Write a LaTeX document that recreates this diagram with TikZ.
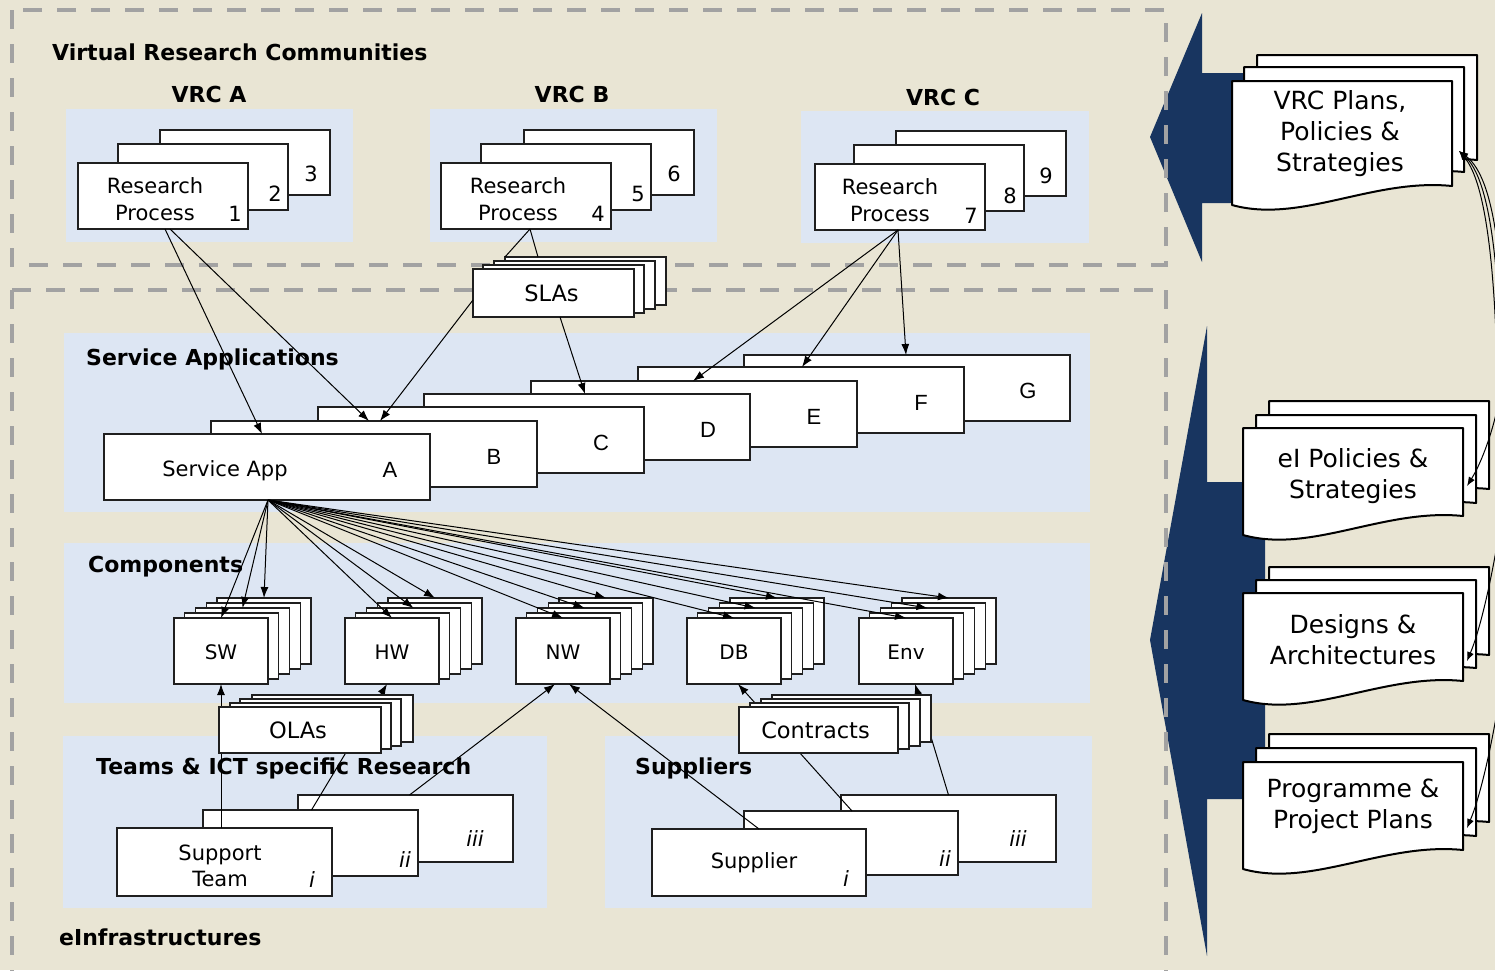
\documentclass[tikz,border=0pt]{standalone}
\usepackage{fontspec}
\setmainfont{DejaVu Sans}
\newfontfamily\arialfam{Liberation Sans}
\usetikzlibrary{arrows.meta,calc}
\definecolor{bgc}{RGB}{233,229,212}
\definecolor{panelc}{RGB}{221,230,243}
\definecolor{navyc}{RGB}{24,53,96}
\definecolor{dashc}{RGB}{162,162,162}
\tikzset{
  cbox/.style={draw=black!88, fill=white, line width=1.3pt, inner sep=0pt, outer sep=0pt, anchor=north west},
  dashbox/.style={draw=dashc, line width=4.5pt, dash pattern=on 19pt off 15pt},
  seclbl/.style={inner sep=0pt, anchor=west, font=\fontsize{22}{26}\selectfont\bfseries},
  vrclbl/.style={inner sep=0pt, font=\fontsize{22}{26}\selectfont\bfseries},
  btxt/.style={inner sep=0pt, align=center, font=\fontsize{21}{26.5}\selectfont},
  numtxt/.style={inner sep=0pt, font=\fontsize{21}{26}\selectfont},
  lettxt/.style={inner sep=0pt, font=\arialfam\fontsize{22}{26}\selectfont},
  comptxt/.style={inner sep=0pt, font=\fontsize{20}{24}\selectfont},
  agrtxt/.style={inner sep=0pt, font=\fontsize{22.5}{26}\selectfont},
  romtxt/.style={inner sep=0pt, font=\fontsize{21}{26}\selectfont\itshape},
  doctxt/.style={inner sep=0pt, align=center, font=\fontsize{25}{31}\selectfont},
  conn/.style={draw=black, line width=1pt},
  arr/.style={conn, -{Latex[length=11pt,width=8pt]}},
  rarr/.style={draw=black, line width=1pt, -{Latex[length=9pt,width=7pt]}},
  docb/.style={draw=black, fill=white, line width=2pt, line join=round},
}
\newcommand\docsh[4]{%
  \pgfmathsetmacro\dRx{#1+#3}%
  \pgfmathsetmacro\dLy{#2+#4}%
  \pgfmathsetmacro\dRy{#2+#4-19}%
  \pgfmathsetmacro\dAx{#1+0.31*#3}%
  \pgfmathsetmacro\dAy{#2+#4+19}%
  \pgfmathsetmacro\dBx{#1+0.64*#3}%
  \pgfmathsetmacro\dBy{#2+#4-27}%
  \draw[docb] (#1,#2) -- (\dRx,#2) -- (\dRx,\dRy) .. controls (\dBx,\dBy) and (\dAx,\dAy) .. (#1,\dLy) -- cycle;}
\newcommand\cstack[3]{%
  \foreach \k in {5,4,3,2,1}{%
    \pgfmathsetmacro\csx{#2+10.75*(\k-1)}%
    \pgfmathsetmacro\csy{618-5*(\k-1)}%
    \node[cbox,minimum width=94pt,minimum height=66pt] (#1\k) at (\csx,\csy) {};}%
  \node[comptxt] (#1t) at ([yshift=-1pt]#11.center) {#3};}
\begin{document}
\begin{tikzpicture}[x=1pt,y=-1pt]
\useasboundingbox (0,0) rectangle (1495,970);
\fill[bgc] (0,0) rectangle (1495,970);
% panels
\fill[panelc] (66,109) rectangle (353,242);
\fill[panelc] (430,109) rectangle (717,242);
\fill[panelc] (801,111) rectangle (1089,243);
\fill[panelc] (64,333) rectangle (1090,512);
\fill[panelc] (64,543) rectangle (1090,703);
\fill[panelc] (63,736) rectangle (547,908);
\fill[panelc] (605,736) rectangle (1092,908);
% section labels
\node[seclbl] (tVRC) at (52,52) {Virtual Research Communities};
\node[vrclbl] (tA) at (209,94) {VRC A};
\node[vrclbl] (tB) at (572,94) {VRC B};
\node[vrclbl] (tC) at (943,97) {VRC C};
\node[seclbl] (tSA) at (86,359) {Service Applications};
\node[seclbl] (tComp) at (88,567) {Components};
\node[seclbl] (tTeams) at (96,768) {Teams \& ICT specific Research};
\node[seclbl] (tSup) at (635,768) {Suppliers};
\node[seclbl] (tEI) at (59,937) {eInfrastructures};
% big arrows
\fill[navyc] (1150,137) -- (1202,13) -- (1202,73) -- (1245,73) -- (1245,203) -- (1202,203) -- (1202,262) -- cycle;
\fill[navyc] (1150,640) -- (1207,326) -- (1207,482) -- (1265,482) -- (1265,799) -- (1207,799) -- (1207,956) -- cycle;
% dashed frames
\draw[dashbox] (12,10) rectangle (1166,265);
\draw[dashbox] (12,290) -- (1166,290);
\draw[dashbox] (12,290) -- (12,990);
\draw[dashbox] (1166,290) -- (1166,990);
% research processes
\node[cbox,minimum width=170pt,minimum height=65pt] (rp3) at (160,130) {};
\node[cbox,minimum width=170pt,minimum height=66pt] (rp2) at (118,144) {};
\node[cbox,minimum width=170pt,minimum height=66pt] (rp1) at (78,163) {};
\node[btxt] (rp1t) at (155,199) {Research\\Process};
\node[numtxt] (n1) at (235,214) {1};
\node[numtxt] (n2) at (275,194) {2};
\node[numtxt] (n3) at (311,174) {3};
\node[cbox,minimum width=170pt,minimum height=65pt] (rp6) at (524,130) {};
\node[cbox,minimum width=170pt,minimum height=66pt] (rp5) at (481,144) {};
\node[cbox,minimum width=170pt,minimum height=66pt] (rp4) at (441,163) {};
\node[btxt] (rp4t) at (518,199) {Research\\Process};
\node[numtxt] (n4) at (598,214) {4};
\node[numtxt] (n5) at (638,194) {5};
\node[numtxt] (n6) at (674,174) {6};
\node[cbox,minimum width=170pt,minimum height=65pt] (rp9) at (896,131) {};
\node[cbox,minimum width=170pt,minimum height=66pt] (rp8) at (854,145) {};
\node[cbox,minimum width=170pt,minimum height=66pt] (rp7) at (815,164) {};
\node[btxt] (rp7t) at (890,200) {Research\\Process};
\node[numtxt] (n7) at (971,216) {7};
\node[numtxt] (n8) at (1010,196) {8};
\node[numtxt] (n9) at (1046,176) {9};
% SLAs
\node[cbox,minimum width=161pt,minimum height=48pt] (sla4) at (505,257) {};
\node[cbox,minimum width=161pt,minimum height=48pt] (sla3) at (494,261) {};
\node[cbox,minimum width=161pt,minimum height=48pt] (sla2) at (483,265) {};
\node[cbox,minimum width=161pt,minimum height=48pt] (sla1) at (473,269) {};
\node[agrtxt] (slat) at ([xshift=-2pt]sla1.center) {SLAs};
% service applications
\node[cbox,minimum width=326pt,minimum height=66pt] (saG) at (744,355) {};
\node[cbox,minimum width=326pt,minimum height=66pt] (saF) at (638,367) {};
\node[cbox,minimum width=326pt,minimum height=66pt] (saE) at (531,381) {};
\node[cbox,minimum width=326pt,minimum height=66pt] (saD) at (424,394) {};
\node[cbox,minimum width=326pt,minimum height=66pt] (saC) at (318,407) {};
\node[cbox,minimum width=326pt,minimum height=66pt] (saB) at (211,421) {};
\node[cbox,minimum width=326pt,minimum height=66pt] (saA) at (104,434) {};
\node[lettxt] (lG) at (1028,391) {G};
\node[lettxt] (lF) at (921,403) {F};
\node[lettxt] (lE) at (814,417) {E};
\node[lettxt] (lD) at (708,430) {D};
\node[lettxt] (lC) at (601,443) {C};
\node[lettxt] (lB) at (494,457) {B};
\node[lettxt] (lA) at (390,470) {A};
\node[btxt] (saAt) at (225,471) {Service App};
% components
\cstack{sw}{174}{SW}
\cstack{hw}{345}{HW}
\cstack{nw}{516}{NW}
\cstack{db}{687}{DB}
\cstack{env}{859}{Env}
% teams
\node[cbox,minimum width=215pt,minimum height=67pt] (team3) at (298,795) {};
\node[cbox,minimum width=215pt,minimum height=66pt] (team2) at (203,810) {};
\node[cbox,minimum width=215pt,minimum height=68pt] (team1) at (117,828) {};
\node[romtxt] (r3) at (475,839) {iii};
\node[romtxt] (r2) at (405,860) {ii};
\node[romtxt] (r1) at (312,880) {i};
\node[btxt] (team1t) at (220,866) {Support\\Team};
% suppliers
\node[cbox,minimum width=215pt,minimum height=67pt] (sup3) at (841,795) {};
\node[cbox,minimum width=214pt,minimum height=64pt] (sup2) at (744,811) {};
\node[cbox,minimum width=214pt,minimum height=67pt] (sup1) at (652,829) {};
\node[romtxt] (s3) at (1018,839) {iii};
\node[romtxt] (s2) at (945,859) {ii};
\node[romtxt] (s1) at (846,879) {i};
\node[btxt] (sup1t) at (754,863) {Supplier};
% documents
\docsh{1257}{55}{220}{124}
\docsh{1244}{67}{220}{124}
\docsh{1232}{81}{220}{124}
\node[doctxt] (dVRC) at (1340,134) {VRC Plans,\\Policies \&\\Strategies};
\docsh{1269}{401}{220}{107}
\docsh{1256}{415}{220}{107}
\docsh{1243}{428}{220}{107}
\node[doctxt] (dEI) at (1353,476) {eI Policies \&\\Strategies};
\docsh{1269}{567}{220}{107}
\docsh{1256}{580}{220}{107}
\docsh{1243}{593}{220}{107}
\node[doctxt] (dDes) at (1353,640) {Designs \&\\Architectures};
\docsh{1269}{734}{220}{107}
\docsh{1256}{748}{220}{107}
\docsh{1243}{762}{220}{107}
\node[doctxt] (dProg) at (1353,806) {Programme \&\\Project Plans};
% connectors VRC -> SA
\draw[arr] ([xshift=2pt]rp1.south) -- ([xshift=158pt]saA.north west);
\draw[arr] ([xshift=7pt]rp1.south) -- ([xshift=158pt]saB.north west);
\draw[conn] ([xshift=4pt]rp4.south) -- (sla4.north west);
\draw[conn] ([xshift=4pt]rp4.south) -- ([xshift=33pt]sla4.north west);
\draw[arr] ([yshift=-7pt]sla1.west) -- ([xshift=169pt]saB.north west);
\draw[arr] ([xshift=87pt]sla1.south west) -- ([xshift=161pt]saD.north west);
\draw[arr] ([xshift=-2pt]rp7.south) -- ([xshift=162pt]saE.north west);
\draw[arr] ([xshift=-2pt]rp7.south) -- ([xshift=164pt]saF.north west);
\draw[arr] ([xshift=-2pt]rp7.south) -- ([xshift=162pt]saG.north west);
% fan out
\coordinate (fanS) at ([xshift=164pt]saA.south west);
\foreach \t in {sw,hw,nw,db,env}{\foreach \k in {1,3,5}{\draw[arr] (fanS) -- (\t\k.north);}}
% teams and suppliers to components
\draw[arr] (sw1.south |- team1.north) -- (sw1.south);
\draw[arr] ([xshift=1pt]team2.north) -- ([xshift=-5pt]hw1.south);
\draw[arr] ([xshift=4pt]team3.north) -- ([xshift=-8pt]nw1.south);
\draw[arr] (sup1.north) -- ([xshift=6pt]nw1.south);
\draw[arr] ([xshift=1pt]sup2.north) -- ([xshift=4pt]db1.south);
\draw[arr] (sup3.north) -- ([xshift=9pt]env1.south);
% OLAs and contracts
\node[cbox,minimum width=161pt,minimum height=47pt] (ola4) at (252,695) {};
\node[cbox,minimum width=161pt,minimum height=47pt] (ola3) at (240,699) {};
\node[cbox,minimum width=161pt,minimum height=46pt] (ola2) at (230,703) {};
\node[cbox,minimum width=162pt,minimum height=46pt] (ola1) at (219,707) {};
\node[agrtxt] (olat) at ([xshift=-2pt]ola1.center) {OLAs};
\node[cbox,minimum width=159pt,minimum height=47pt] (con4) at (772,695) {};
\node[cbox,minimum width=159pt,minimum height=47pt] (con3) at (761,699) {};
\node[cbox,minimum width=159pt,minimum height=46pt] (con2) at (750,703) {};
\node[cbox,minimum width=159pt,minimum height=46pt] (con1) at (739,707) {};
\node[agrtxt] (cont) at ([xshift=-3pt]con1.center) {Contracts};
% right-side arrows
\coordinate (vIn) at (1459,151);
\coordinate (vs1) at (1496,335);
\coordinate (vs2) at (1500,332);
\coordinate (vs3) at (1504,329);
\draw[rarr] (vs1) .. controls (1492,240) and (1482,178) .. (vIn);
\draw[rarr] (vs2) .. controls (1496,238) and (1486,176) .. (vIn);
\draw[rarr] (vs3) .. controls (1500,236) and (1490,174) .. (vIn);
\coordinate (eIn) at (1467,486);
\coordinate (eS) at (1497,410);
\draw[rarr] (eS) .. controls (1490,440) and (1480,465) .. (eIn);
\coordinate (dIn) at (1467,661);
\coordinate (dS) at (1497,545);
\draw[rarr] (dS) .. controls (1490,585) and (1480,630) .. (dIn);
\coordinate (pIn) at (1467,828);
\coordinate (pS) at (1497,712);
\draw[rarr] (pS) .. controls (1490,752) and (1480,797) .. (pIn);
\end{tikzpicture}
\end{document}
